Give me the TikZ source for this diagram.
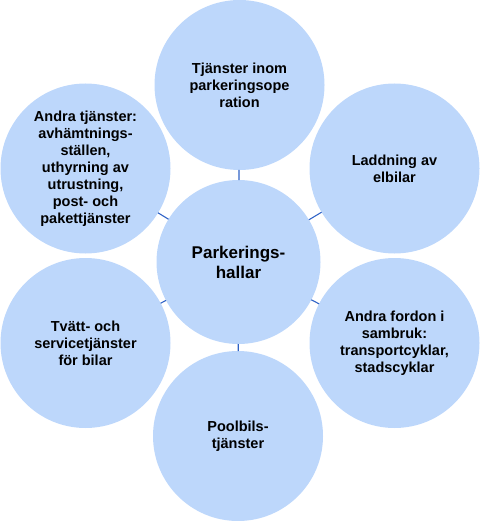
\documentclass[tikz,border=0pt]{standalone}
\usepackage{fontspec}
\setmainfont{Liberation Sans}
\definecolor{circfill}{HTML}{BDD7FB}
\definecolor{linkcol}{HTML}{2F62C6}
\begin{document}
\begin{tikzpicture}[x=1pt,y=-1pt,
  bubble/.style={circle,fill=circfill,draw=none,inner sep=0pt,outer sep=0pt,
    minimum size=170pt,align=center,font=\bfseries\fontsize{14.5}{17}\selectfont},
  hub/.style={bubble,minimum size=164pt,font=\bfseries\fontsize{17}{20}\selectfont},
  link/.style={draw=linkcol,line width=1.1pt}]
\useasboundingbox (0,0) rectangle (480,521);
\node[hub] (c) at (238.5,262) {Parkerings-\\hallar};
\node[bubble] (t) at (239.5,85) {Tjänster inom\\parkeringsope\\ration};
\node[bubble] (ur) at (394.5,168.5) {Laddning av\\elbilar};
\node[bubble] (lr) at (394.5,343) {Andra fordon i\\sambruk:\\transportcyklar,\\stadscyklar};
\node[bubble] (b) at (238,436) {Poolbils-\\tjänster};
\node[bubble] (ll) at (85.5,343) {Tvätt- och\\servicetjänster\\för bilar};
\node[bubble] (ul) at (85.5,168.5) {Andra tjänster:\\avhämtnings-\\ställen,\\uthyrning av\\utrustning,\\post- och\\pakettjänster};
\foreach \n in {t,ur,lr,b,ll,ul} \draw[link] (c) -- (\n);
\end{tikzpicture}
\end{document}
